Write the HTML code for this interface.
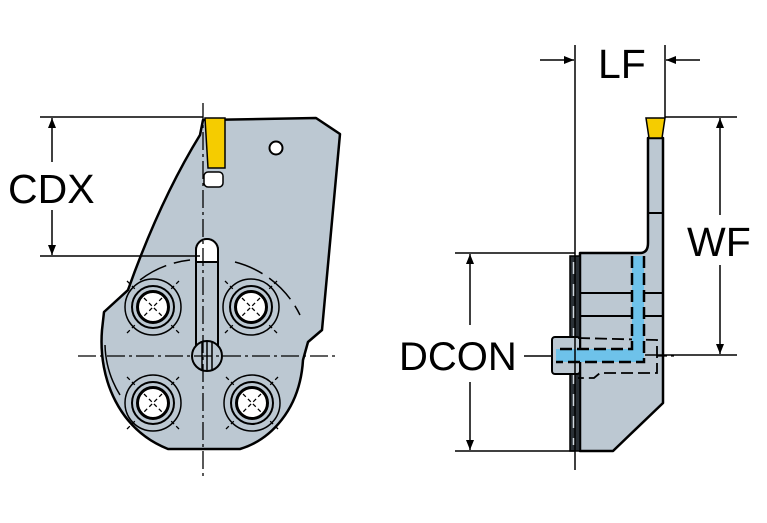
<!DOCTYPE html>
<html><head><meta charset="utf-8"><style>
html,body{margin:0;padding:0;background:#fff;}
svg{display:block}
text{font-family:"Liberation Sans",sans-serif;fill:#000}
</style></head><body>
<svg width="767" height="523" viewBox="0 0 767 523" xmlns="http://www.w3.org/2000/svg">
<defs>
<marker id="a" viewBox="0 0 10 10" refX="10" refY="5" markerWidth="10" markerHeight="10" markerUnits="userSpaceOnUse" orient="auto"><path d="M0,1 L10,5 L0,9 z" fill="#000"/></marker>
<g id="sc"><circle r="28" stroke-width="1.5"/><circle r="21" stroke-width="2"/><circle r="15.5" fill="#fff" stroke-width="3"/><path d="M-9,-9L9,9M9,-9L-9,9M-26,-26L-18,-18M26,26L18,18M26,-26L18,-18M-26,26L-18,18" stroke-width="1.3" stroke-dasharray="4,3"/></g>
</defs>
<!-- LEFT VIEW -->
<path d="M203,120 L316,118 L340,134 L322,330 L308,342 L303,360 C300,410 270,440 240,449 L168,449 C120,430 98,380 102,330 L104,312 L128,290 Q160,200 200,135 Z" fill="#bcc8d2" stroke="#000" stroke-width="2.5" stroke-linejoin="round"/>
<path d="M140,280 A100,100 0 0 1 190,260" fill="none" stroke="#000" stroke-width="1.5" stroke-dasharray="30,8"/>
<path d="M235,262 A100,100 0 0 1 300,315" fill="none" stroke="#000" stroke-width="1.5" stroke-dasharray="30,8"/>
<path d="M105,345 A100,100 0 0 0 120,395" fill="none" stroke="#000" stroke-width="1.5"/>
<path d="M205,118 L225,118 L225,168 L208,168 Z" fill="#f5cc00" stroke="#000" stroke-width="1.5"/>
<rect x="204" y="172" width="19" height="15" rx="4" fill="#fff" stroke="#000" stroke-width="1.5"/>
<circle cx="276" cy="148" r="6.5" fill="#fff" stroke="#000" stroke-width="2"/>
<path d="M196,355 L196,250 A11,11 0 0 1 218,250 L218,355" fill="#bcc8d2" stroke="#000" stroke-width="2"/>
<path d="M196,262 L196,250 A11,11 0 0 1 218,250 L218,262 Z" fill="#fff" stroke="#000" stroke-width="2"/>
<circle cx="207" cy="356" r="15" fill="#bcc8d2" stroke="#000" stroke-width="2"/>
<path d="M202,342 L202,370 M207,341 L207,371 M212,342 L212,370" stroke="#000" stroke-width="1.5"/>
<g stroke="#000" fill="none">
<use href="#sc" x="153" y="307"/><use href="#sc" x="251" y="307"/>
<use href="#sc" x="153" y="403"/><use href="#sc" x="252" y="403"/>
</g>
<line x1="203" y1="103" x2="203" y2="478" stroke="#000" stroke-width="1.3" stroke-dasharray="18,4,3,4"/>
<line x1="78" y1="356" x2="336" y2="356" stroke="#000" stroke-width="1.3" stroke-dasharray="18,4,3,4"/>
<line x1="40" y1="117" x2="203" y2="117" stroke="#000" stroke-width="1.5"/>
<line x1="40" y1="256" x2="200" y2="256" stroke="#000" stroke-width="1.5"/>
<line x1="52" y1="162" x2="52" y2="118" stroke="#000" stroke-width="1.5" marker-end="url(#a)"/>
<line x1="52" y1="210" x2="52" y2="255" stroke="#000" stroke-width="1.5" marker-end="url(#a)"/>
<text x="8" y="203" font-size="41">CDX</text>
<!-- RIGHT VIEW -->
<path d="M648,138 L663,138 L663,403 L613,451 L580,451 L580,253 L640,253 Q648,253 648,243 Z" fill="#bcc8d2" stroke="#000" stroke-width="2.5" stroke-linejoin="round"/>
<line x1="648" y1="213" x2="663" y2="213" stroke="#000" stroke-width="2"/>
<line x1="580" y1="293" x2="663" y2="293" stroke="#000" stroke-width="2"/>
<line x1="580" y1="316" x2="663" y2="316" stroke="#000" stroke-width="2"/>
<path d="M646,118 L665,118 L662,138 L649,138 Z" fill="#f5cc00" stroke="#000" stroke-width="1.5"/>
<rect x="570" y="256" width="10" height="195" fill="#2a3036" stroke="#000" stroke-width="1.5"/>
<line x1="574" y1="262" x2="574" y2="445" stroke="#d0d8e0" stroke-width="2.5" stroke-dasharray="12,10"/>
<rect x="552" y="337" width="28" height="37" rx="3" fill="#bcc8d2" stroke="#000" stroke-width="2"/>
<path d="M578,338 L657,340 L657,373 L600,373 L594,378 L578,378" fill="none" stroke="#000" stroke-width="1.8" stroke-dasharray="12,5"/>
<rect x="632" y="256" width="12" height="100" fill="#6ec2ea"/>
<rect x="556" y="349" width="88" height="13" fill="#6ec2ea"/>
<g stroke="#000" stroke-width="2.5" stroke-dasharray="12,5" fill="none">
<path d="M632,256 L632,349 L556,349"/>
<path d="M644,256 L644,362 L556,362"/>
</g>
<line x1="575" y1="45" x2="575" y2="470" stroke="#000" stroke-width="1.5"/>
<line x1="665" y1="45" x2="665" y2="118" stroke="#000" stroke-width="1.5"/>
<line x1="540" y1="60" x2="574" y2="60" stroke="#000" stroke-width="1.5" marker-end="url(#a)"/>
<line x1="700" y1="60" x2="666" y2="60" stroke="#000" stroke-width="1.5" marker-end="url(#a)"/>
<text x="598" y="78" font-size="41">LF</text>
<line x1="665" y1="117" x2="737" y2="117" stroke="#000" stroke-width="1.5"/>
<line x1="645" y1="355" x2="737" y2="355" stroke="#000" stroke-width="1.5"/>
<line x1="720" y1="215" x2="720" y2="118" stroke="#000" stroke-width="1.5" marker-end="url(#a)"/>
<line x1="720" y1="265" x2="720" y2="354" stroke="#000" stroke-width="1.5" marker-end="url(#a)"/>
<text x="687" y="256" font-size="41">WF</text>
<line x1="455" y1="253" x2="575" y2="253" stroke="#000" stroke-width="1.5"/>
<line x1="455" y1="451" x2="575" y2="451" stroke="#000" stroke-width="1.5"/>
<line x1="470" y1="325" x2="470" y2="254" stroke="#000" stroke-width="1.5" marker-end="url(#a)"/>
<line x1="470" y1="382" x2="470" y2="450" stroke="#000" stroke-width="1.5" marker-end="url(#a)"/>
<text x="399" y="370" font-size="40">DCON</text>
<line x1="524" y1="356" x2="552" y2="356" stroke="#000" stroke-width="1.5"/>
<line x1="657" y1="356" x2="675" y2="356" stroke="#000" stroke-width="1.3" stroke-dasharray="10,4,3,4"/>
</svg>
</body></html>
